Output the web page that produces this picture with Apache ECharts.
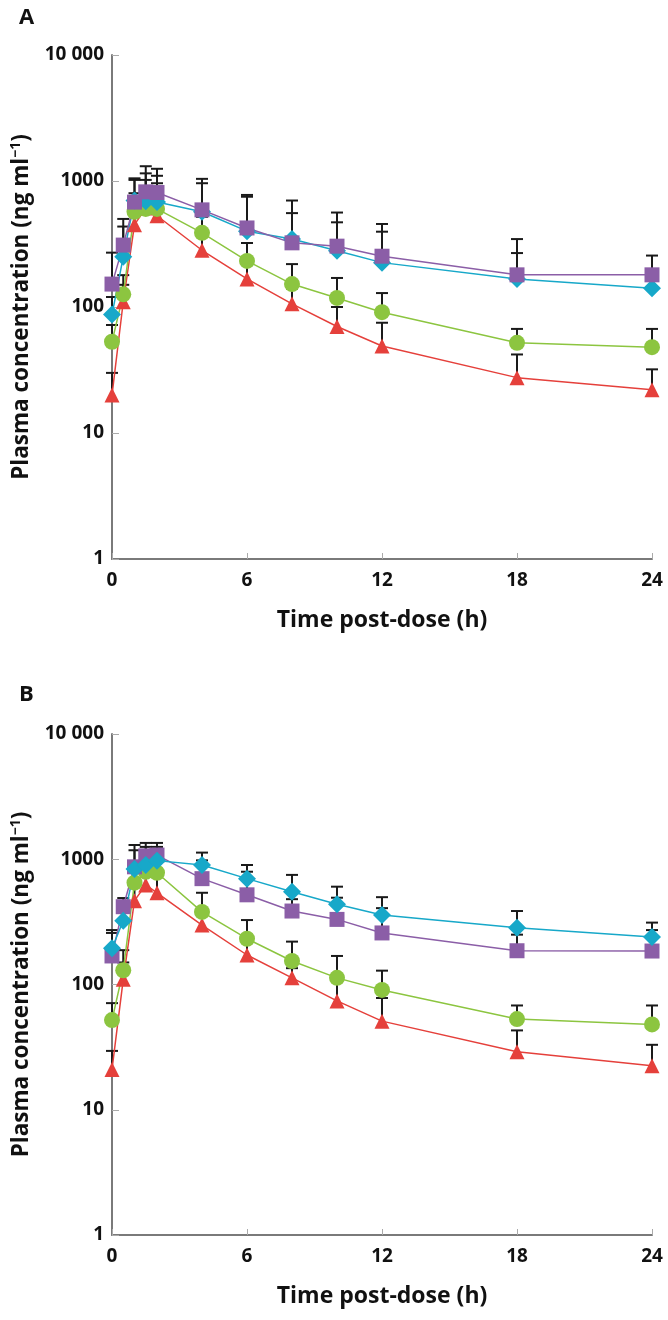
<!DOCTYPE html>
<html>
<head>
<meta charset="utf-8">
<script src="https://cdn.jsdelivr.net/npm/echarts@6/dist/echarts.min.js"></script>
<style>
    html, body { margin: 0; padding: 0; background: #fff; }
    #main { width: 668px; height: 1320px; }
</style>
</head>
<body>
<div id="main"></div>
<script>
// sampling times (h)
var times = [0, 0.5, 1, 1.5, 2, 4, 6, 8, 10, 12, 18, 24];
var xTicks = [0, 6, 12, 18, 24];
var yTicks = [1, 10, 100, 1000, 10000];

// panel A: mean and mean + SD (ng/ml)
var redA = [20, 110, 450, 610, 530, 282, 167, 106, 70, 49, 27.5, 22];
var redAUp = [30, 150, 600, 800, 700, 380, 230, 140, 100, 75, 42, 32];
var greenA = [53, 126, 570, 600, 600, 388, 232, 152, 118, 91, 52, 48];
var greenAUp = [72, 179, 800, 1020, 960, 520, 322, 219, 170, 129, 67, 67];
var cyanA = [87, 250, 700, 690, 680, 570, 400, 346, 280, 225, 167, 141];
var cyanAUp = [120, 435, 1020, 1150, 1100, 960, 750, 556, 470, 396, 268, 190];
var purpleA = [152, 310, 680, 820, 810, 590, 424, 323, 304, 253, 180, 180];
var purpleAUp = [270, 500, 1050, 1310, 1250, 1040, 775, 700, 562, 456, 346, 256];

// panel B
var redB = [21, 110, 467, 624, 540, 298, 172, 113, 74, 51, 29, 22.5];
var redBUp = [29.5, 150, 620, 800, 720, 400, 240, 135, 105, 78, 43, 33];
var greenB = [52, 130, 650, 795, 780, 380, 232, 154, 113, 90.5, 53, 48];
var greenBUp = [71, 188, 900, 1050, 1000, 540, 327, 220, 169, 129, 68, 68];
var purpleB = [169, 418, 870, 1065, 1080, 700, 520, 386, 331, 258, 186, 185];
var purpleBUp = [258, 490, 1180, 1255, 1255, 980, 795, 480, 493, 407, 250, 272];
var cyanB = [195, 323, 835, 900, 975, 900, 700, 550, 438, 359, 284, 240];
var cyanBUp = [272, 440, 1300, 1350, 1350, 1130, 900, 750, 604, 498, 386, 312];

var RED = '#e5403b', GREEN = '#8cc540', CYAN = '#17a8c9', PURPLE = '#8b5ea7';
var FONT = 'Open Sans';

function pairs(vals) {
    return times.map(function (t, i) { return [t, vals[i]]; });
}

function errRows(vals, ups) {
    return times.map(function (t, i) { return [t, vals[i], ups[i]]; });
}

function renderErr(params, api) {
    var p0 = api.coord([api.value(0), api.value(1)]);
    var p1 = api.coord([api.value(0), api.value(2)]);
    var st = { stroke: '#1a1a1a', lineWidth: 2 };
    return {
        type: 'group',
        children: [
            { type: 'line', shape: { x1: p0[0], y1: p0[1], x2: p1[0], y2: p1[1] }, style: st },
            { type: 'line', shape: { x1: p1[0] - 6, y1: p1[1], x2: p1[0] + 6, y2: p1[1] }, style: st }
        ]
    };
}

function lineSeries(idx, vals, color, symbol, size) {
    return {
        type: 'line',
        xAxisIndex: idx,
        yAxisIndex: idx,
        data: pairs(vals),
        symbol: symbol,
        symbolSize: size,
        showAllSymbol: true,
        lineStyle: { color: color, width: 1.5 },
        itemStyle: { color: color },
        z: 3,
        animation: false
    };
}

function errSeries(idx, vals, ups) {
    return {
        type: 'custom',
        xAxisIndex: idx,
        yAxisIndex: idx,
        data: errRows(vals, ups),
        encode: { x: 0, y: [1, 2] },
        renderItem: renderErr,
        clip: false,
        z: 2,
        animation: false
    };
}

function xAxisDef(idx) {
    return {
        type: 'value',
        gridIndex: idx,
        min: 0,
        max: 24,
        interval: 6,
        splitLine: { show: false },
        axisLine: { lineStyle: { color: '#7a7a7a', width: 2 } },
        axisTick: { inside: true, length: 6, lineStyle: { color: '#aaa', width: 1 } },
        axisLabel: {
            margin: 12, color: '#111', fontFamily: FONT, fontWeight: 'bold', fontSize: 19,
            formatter: function (v) { return xTicks.indexOf(v) >= 0 ? String(v) : ''; }
        },
        name: 'Time post-dose (h)',
        nameLocation: 'middle',
        nameGap: 50,
        nameTextStyle: { color: '#111', fontFamily: FONT, fontWeight: 'bold', fontSize: 23 }
    };
}

function yAxisDef(idx) {
    return {
        type: 'log',
        logBase: 10,
        gridIndex: idx,
        min: 1,
        max: 10000,
        splitLine: { show: false },
        axisLine: { lineStyle: { color: '#7a7a7a', width: 2 } },
        axisTick: { inside: true, length: 7, lineStyle: { color: '#aaa', width: 1 } },
        axisLabel: {
            margin: 8, color: '#111', fontFamily: FONT, fontWeight: 'bold', fontSize: 19,
            formatter: function (v) {
                if (yTicks.indexOf(v) < 0) return '';
                return v === 10000 ? '10 000' : String(v);
            }
        },
        name: 'Plasma concentration (ng ml{sup|\u22121})',
        nameLocation: 'middle',
        nameGap: 78,
        nameTextStyle: {
            color: '#111', fontFamily: FONT, fontWeight: 'bold', fontSize: 22.5, lineHeight: 25,
            rich: {
                sup: { color: '#111', fontFamily: FONT, fontWeight: 'bold', fontSize: 14, lineHeight: 25, verticalAlign: 'top' }
            }
        }
    };
}

var chart = echarts.init(document.getElementById('main'));

var option = {
    backgroundColor: '#fff',
    animation: false,
    title: [
        { text: 'A', left: 14, top: 2, textStyle: { fontFamily: FONT, fontWeight: 'bold', fontSize: 22, color: '#111' } },
        { text: 'B', left: 14, top: 679, textStyle: { fontFamily: FONT, fontWeight: 'bold', fontSize: 22, color: '#111' } }
    ],
    grid: [
        { left: 112, top: 55, width: 540, height: 504 },
        { left: 112, top: 734, width: 540, height: 501 }
    ],
    xAxis: [xAxisDef(0), xAxisDef(1)],
    yAxis: [yAxisDef(0), yAxisDef(1)],
    series: [
        errSeries(0, redA, redAUp),
        errSeries(0, greenA, greenAUp),
        errSeries(0, cyanA, cyanAUp),
        errSeries(0, purpleA, purpleAUp),
        lineSeries(0, redA, RED, 'triangle', 15),
        lineSeries(0, greenA, GREEN, 'circle', 16),
        lineSeries(0, cyanA, CYAN, 'diamond', 18),
        lineSeries(0, purpleA, PURPLE, 'rect', 15),

        errSeries(1, redB, redBUp),
        errSeries(1, greenB, greenBUp),
        errSeries(1, purpleB, purpleBUp),
        errSeries(1, cyanB, cyanBUp),
        lineSeries(1, redB, RED, 'triangle', 15),
        lineSeries(1, greenB, GREEN, 'circle', 16),
        lineSeries(1, purpleB, PURPLE, 'rect', 15),
        lineSeries(1, cyanB, CYAN, 'diamond', 18)
    ]
};

option && chart.setOption(option);
</script>
</body>
</html>
